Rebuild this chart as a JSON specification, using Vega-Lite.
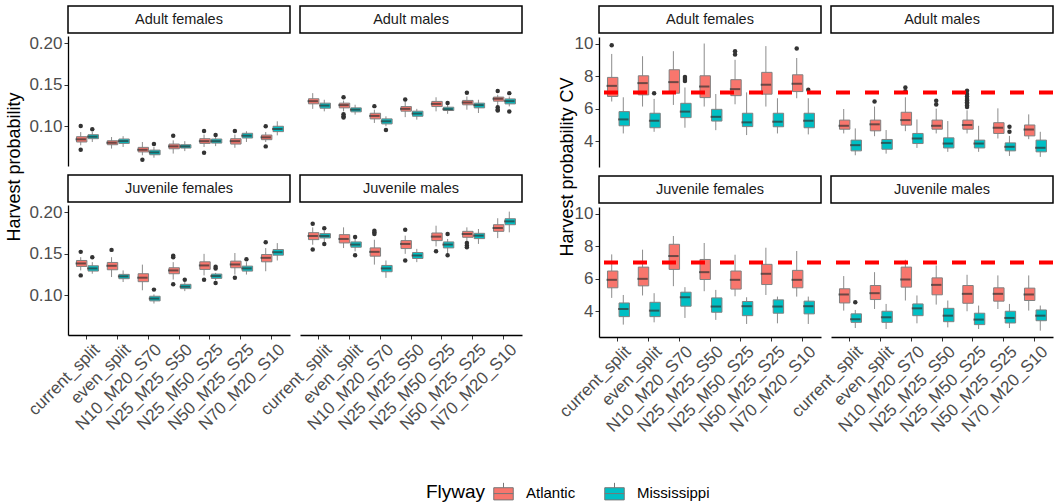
{
"$schema":"https://vega.github.io/schema/vega-lite/v6.json",
"padding":{"left":5,"top":5,"right":3,"bottom":0},
"background":"white",
"datasets":{
"box_hp":[
{"panel":"Adult females","scenario":"current_split","Flyway":"Atlantic","lower":0.077,"q1":0.081,"median":0.0842,"q3":0.0874,"upper":0.093},
{"panel":"Adult females","scenario":"current_split","Flyway":"Mississippi","lower":0.081,"q1":0.085,"median":0.0874,"q3":0.0898,"upper":0.093},
{"panel":"Adult females","scenario":"even_split","Flyway":"Atlantic","lower":0.073,"q1":0.0777,"median":0.0801,"q3":0.0825,"upper":0.087},
{"panel":"Adult females","scenario":"even_split","Flyway":"Mississippi","lower":0.075,"q1":0.0793,"median":0.0821,"q3":0.0846,"upper":0.088},
{"panel":"Adult females","scenario":"N10_M20_S70","Flyway":"Atlantic","lower":0.065,"q1":0.069,"median":0.0716,"q3":0.0745,"upper":0.081},
{"panel":"Adult females","scenario":"N10_M20_S70","Flyway":"Mississippi","lower":0.062,"q1":0.0656,"median":0.0684,"q3":0.0712,"upper":0.075},
{"panel":"Adult females","scenario":"N25_M25_S50","Flyway":"Atlantic","lower":0.067,"q1":0.0728,"median":0.0757,"q3":0.0785,"upper":0.083},
{"panel":"Adult females","scenario":"N25_M25_S50","Flyway":"Mississippi","lower":0.07,"q1":0.0737,"median":0.0757,"q3":0.0777,"upper":0.082},
{"panel":"Adult females","scenario":"N25_M50_S25","Flyway":"Atlantic","lower":0.075,"q1":0.0793,"median":0.082,"q3":0.085,"upper":0.09},
{"panel":"Adult females","scenario":"N25_M50_S25","Flyway":"Mississippi","lower":0.076,"q1":0.0797,"median":0.082,"q3":0.0846,"upper":0.088},
{"panel":"Adult females","scenario":"N50_M25_S25","Flyway":"Atlantic","lower":0.074,"q1":0.0785,"median":0.082,"q3":0.085,"upper":0.09},
{"panel":"Adult females","scenario":"N50_M25_S25","Flyway":"Mississippi","lower":0.081,"q1":0.0858,"median":0.0886,"q3":0.0915,"upper":0.094},
{"panel":"Adult females","scenario":"N70_M20_S10","Flyway":"Atlantic","lower":0.081,"q1":0.0838,"median":0.0866,"q3":0.0894,"upper":0.093},
{"panel":"Adult females","scenario":"N70_M20_S10","Flyway":"Mississippi","lower":0.089,"q1":0.0935,"median":0.0967,"q3":0.1,"upper":0.106},
{"panel":"Adult males","scenario":"current_split","Flyway":"Atlantic","lower":0.121,"q1":0.1271,"median":0.1303,"q3":0.1332,"upper":0.14},
{"panel":"Adult males","scenario":"current_split","Flyway":"Mississippi","lower":0.118,"q1":0.1218,"median":0.125,"q3":0.1279,"upper":0.132},
{"panel":"Adult males","scenario":"even_split","Flyway":"Atlantic","lower":0.118,"q1":0.1222,"median":0.1255,"q3":0.1279,"upper":0.131},
{"panel":"Adult males","scenario":"even_split","Flyway":"Mississippi","lower":0.114,"q1":0.1174,"median":0.12,"q3":0.1222,"upper":0.126},
{"panel":"Adult males","scenario":"N10_M20_S70","Flyway":"Atlantic","lower":0.104,"q1":0.1089,"median":0.1125,"q3":0.1157,"upper":0.12},
{"panel":"Adult males","scenario":"N10_M20_S70","Flyway":"Mississippi","lower":0.1,"q1":0.1028,"median":0.106,"q3":0.1089,"upper":0.112},
{"panel":"Adult males","scenario":"N25_M25_S50","Flyway":"Atlantic","lower":0.111,"q1":0.1182,"median":0.121,"q3":0.1238,"upper":0.13},
{"panel":"Adult males","scenario":"N25_M25_S50","Flyway":"Mississippi","lower":0.108,"q1":0.1121,"median":0.1153,"q3":0.1182,"upper":0.121},
{"panel":"Adult males","scenario":"N25_M50_S25","Flyway":"Atlantic","lower":0.118,"q1":0.1238,"median":0.127,"q3":0.13,"upper":0.135},
{"panel":"Adult males","scenario":"N25_M50_S25","Flyway":"Mississippi","lower":0.115,"q1":0.119,"median":0.1206,"q3":0.123,"upper":0.126},
{"panel":"Adult males","scenario":"N50_M25_S25","Flyway":"Atlantic","lower":0.12,"q1":0.1259,"median":0.1287,"q3":0.1312,"upper":0.136},
{"panel":"Adult males","scenario":"N50_M25_S25","Flyway":"Mississippi","lower":0.116,"q1":0.1222,"median":0.1255,"q3":0.1279,"upper":0.132},
{"panel":"Adult males","scenario":"N70_M20_S10","Flyway":"Atlantic","lower":0.125,"q1":0.1303,"median":0.1332,"q3":0.1352,"upper":0.138},
{"panel":"Adult males","scenario":"N70_M20_S10","Flyway":"Mississippi","lower":0.124,"q1":0.127,"median":0.1303,"q3":0.133,"upper":0.136},
{"panel":"Juvenile females","scenario":"current_split","Flyway":"Atlantic","lower":0.13,"q1":0.1348,"median":0.1384,"q3":0.142,"upper":0.146},
{"panel":"Juvenile females","scenario":"current_split","Flyway":"Mississippi","lower":0.126,"q1":0.1292,"median":0.1324,"q3":0.1356,"upper":0.14},
{"panel":"Juvenile females","scenario":"even_split","Flyway":"Atlantic","lower":0.122,"q1":0.1308,"median":0.1356,"q3":0.1396,"upper":0.146},
{"panel":"Juvenile females","scenario":"even_split","Flyway":"Mississippi","lower":0.116,"q1":0.12,"median":0.1228,"q3":0.1252,"upper":0.13},
{"panel":"Juvenile females","scenario":"N10_M20_S70","Flyway":"Atlantic","lower":0.106,"q1":0.1164,"median":0.1212,"q3":0.126,"upper":0.137},
{"panel":"Juvenile females","scenario":"N10_M20_S70","Flyway":"Mississippi","lower":0.09,"q1":0.0932,"median":0.096,"q3":0.0988,"upper":0.101},
{"panel":"Juvenile females","scenario":"N25_M25_S50","Flyway":"Atlantic","lower":0.119,"q1":0.126,"median":0.13,"q3":0.1332,"upper":0.14},
{"panel":"Juvenile females","scenario":"N25_M25_S50","Flyway":"Mississippi","lower":0.105,"q1":0.108,"median":0.1104,"q3":0.1132,"upper":0.116},
{"panel":"Juvenile females","scenario":"N25_M50_S25","Flyway":"Atlantic","lower":0.124,"q1":0.1312,"median":0.136,"q3":0.1404,"upper":0.15},
{"panel":"Juvenile females","scenario":"N25_M50_S25","Flyway":"Mississippi","lower":0.118,"q1":0.1204,"median":0.1232,"q3":0.1256,"upper":0.127},
{"panel":"Juvenile females","scenario":"N50_M25_S25","Flyway":"Atlantic","lower":0.125,"q1":0.1332,"median":0.1372,"q3":0.1412,"upper":0.151},
{"panel":"Juvenile females","scenario":"N50_M25_S25","Flyway":"Mississippi","lower":0.125,"q1":0.1292,"median":0.1324,"q3":0.1352,"upper":0.14},
{"panel":"Juvenile females","scenario":"N70_M20_S10","Flyway":"Atlantic","lower":0.129,"q1":0.1404,"median":0.1452,"q3":0.1492,"upper":0.157},
{"panel":"Juvenile females","scenario":"N70_M20_S10","Flyway":"Mississippi","lower":0.142,"q1":0.1484,"median":0.152,"q3":0.1552,"upper":0.163},
{"panel":"Juvenile males","scenario":"current_split","Flyway":"Atlantic","lower":0.161,"q1":0.1672,"median":0.1716,"q3":0.1756,"upper":0.182},
{"panel":"Juvenile males","scenario":"current_split","Flyway":"Mississippi","lower":0.164,"q1":0.1692,"median":0.1716,"q3":0.1744,"upper":0.178},
{"panel":"Juvenile males","scenario":"even_split","Flyway":"Atlantic","lower":0.157,"q1":0.1632,"median":0.168,"q3":0.1732,"upper":0.182},
{"panel":"Juvenile males","scenario":"even_split","Flyway":"Mississippi","lower":0.153,"q1":0.158,"median":0.1612,"q3":0.1644,"upper":0.168},
{"panel":"Juvenile males","scenario":"N10_M20_S70","Flyway":"Atlantic","lower":0.137,"q1":0.1472,"median":0.1524,"q3":0.1572,"upper":0.167},
{"panel":"Juvenile males","scenario":"N10_M20_S70","Flyway":"Mississippi","lower":0.121,"q1":0.1284,"median":0.1324,"q3":0.136,"upper":0.142},
{"panel":"Juvenile males","scenario":"N25_M25_S50","Flyway":"Atlantic","lower":0.15,"q1":0.1564,"median":0.162,"q3":0.166,"upper":0.172},
{"panel":"Juvenile males","scenario":"N25_M25_S50","Flyway":"Mississippi","lower":0.14,"q1":0.1444,"median":0.148,"q3":0.1516,"upper":0.156},
{"panel":"Juvenile males","scenario":"N25_M50_S25","Flyway":"Atlantic","lower":0.159,"q1":0.166,"median":0.1708,"q3":0.1752,"upper":0.184},
{"panel":"Juvenile males","scenario":"N25_M50_S25","Flyway":"Mississippi","lower":0.15,"q1":0.1572,"median":0.1612,"q3":0.1644,"upper":0.168},
{"panel":"Juvenile males","scenario":"N50_M25_S25","Flyway":"Atlantic","lower":0.165,"q1":0.17,"median":0.174,"q3":0.1772,"upper":0.182},
{"panel":"Juvenile males","scenario":"N50_M25_S25","Flyway":"Mississippi","lower":0.162,"q1":0.1684,"median":0.172,"q3":0.1748,"upper":0.18},
{"panel":"Juvenile males","scenario":"N70_M20_S10","Flyway":"Atlantic","lower":0.169,"q1":0.1772,"median":0.1812,"q3":0.1852,"upper":0.193},
{"panel":"Juvenile males","scenario":"N70_M20_S10","Flyway":"Mississippi","lower":0.176,"q1":0.1852,"median":0.1892,"q3":0.1924,"upper":0.201}
],
"out_hp":[
{"panel":"Adult females","scenario":"current_split","Flyway":"Atlantic","value":0.1004},
{"panel":"Adult females","scenario":"current_split","Flyway":"Atlantic","value":0.0716},
{"panel":"Adult females","scenario":"current_split","Flyway":"Mississippi","value":0.0963},
{"panel":"Adult females","scenario":"N10_M20_S70","Flyway":"Atlantic","value":0.0595},
{"panel":"Adult females","scenario":"N10_M20_S70","Flyway":"Mississippi","value":0.0785},
{"panel":"Adult females","scenario":"N25_M25_S50","Flyway":"Atlantic","value":0.0886},
{"panel":"Adult females","scenario":"N25_M50_S25","Flyway":"Atlantic","value":0.0943},
{"panel":"Adult females","scenario":"N25_M50_S25","Flyway":"Atlantic","value":0.068},
{"panel":"Adult females","scenario":"N25_M50_S25","Flyway":"Mississippi","value":0.0894},
{"panel":"Adult females","scenario":"N50_M25_S25","Flyway":"Atlantic","value":0.0943},
{"panel":"Adult females","scenario":"N70_M20_S10","Flyway":"Atlantic","value":0.1},
{"panel":"Adult females","scenario":"N70_M20_S10","Flyway":"Atlantic","value":0.0757},
{"panel":"Adult males","scenario":"even_split","Flyway":"Atlantic","value":0.135},
{"panel":"Adult males","scenario":"even_split","Flyway":"Atlantic","value":0.1145},
{"panel":"Adult males","scenario":"even_split","Flyway":"Atlantic","value":0.112},
{"panel":"Adult males","scenario":"even_split","Flyway":"Atlantic","value":0.1105},
{"panel":"Adult males","scenario":"N10_M20_S70","Flyway":"Atlantic","value":0.1243},
{"panel":"Adult males","scenario":"N10_M20_S70","Flyway":"Mississippi","value":0.0955},
{"panel":"Adult males","scenario":"N25_M25_S50","Flyway":"Atlantic","value":0.1323},
{"panel":"Adult males","scenario":"N25_M50_S25","Flyway":"Mississippi","value":0.128},
{"panel":"Adult males","scenario":"N50_M25_S25","Flyway":"Atlantic","value":0.1405},
{"panel":"Adult males","scenario":"N70_M20_S10","Flyway":"Atlantic","value":0.1425},
{"panel":"Adult males","scenario":"N70_M20_S10","Flyway":"Atlantic","value":0.123},
{"panel":"Adult males","scenario":"N70_M20_S10","Flyway":"Atlantic","value":0.12},
{"panel":"Adult males","scenario":"N70_M20_S10","Flyway":"Atlantic","value":0.119},
{"panel":"Adult males","scenario":"N70_M20_S10","Flyway":"Mississippi","value":0.14},
{"panel":"Adult males","scenario":"N70_M20_S10","Flyway":"Mississippi","value":0.1178},
{"panel":"Juvenile females","scenario":"current_split","Flyway":"Atlantic","value":0.1524},
{"panel":"Juvenile females","scenario":"current_split","Flyway":"Atlantic","value":0.124},
{"panel":"Juvenile females","scenario":"current_split","Flyway":"Mississippi","value":0.146},
{"panel":"Juvenile females","scenario":"even_split","Flyway":"Atlantic","value":0.1548},
{"panel":"Juvenile females","scenario":"N10_M20_S70","Flyway":"Mississippi","value":0.1068},
{"panel":"Juvenile females","scenario":"N25_M25_S50","Flyway":"Atlantic","value":0.1476},
{"panel":"Juvenile females","scenario":"N25_M25_S50","Flyway":"Atlantic","value":0.146},
{"panel":"Juvenile females","scenario":"N25_M25_S50","Flyway":"Atlantic","value":0.1132},
{"panel":"Juvenile females","scenario":"N25_M25_S50","Flyway":"Mississippi","value":0.1188},
{"panel":"Juvenile females","scenario":"N25_M50_S25","Flyway":"Atlantic","value":0.1188},
{"panel":"Juvenile females","scenario":"N25_M50_S25","Flyway":"Mississippi","value":0.1344},
{"panel":"Juvenile females","scenario":"N25_M50_S25","Flyway":"Mississippi","value":0.1324},
{"panel":"Juvenile females","scenario":"N25_M50_S25","Flyway":"Mississippi","value":0.1148},
{"panel":"Juvenile females","scenario":"N50_M25_S25","Flyway":"Atlantic","value":0.1212},
{"panel":"Juvenile females","scenario":"N50_M25_S25","Flyway":"Mississippi","value":0.1436},
{"panel":"Juvenile females","scenario":"N70_M20_S10","Flyway":"Atlantic","value":0.164},
{"panel":"Juvenile males","scenario":"current_split","Flyway":"Atlantic","value":0.1864},
{"panel":"Juvenile males","scenario":"current_split","Flyway":"Atlantic","value":0.1552},
{"panel":"Juvenile males","scenario":"current_split","Flyway":"Mississippi","value":0.1808},
{"panel":"Juvenile males","scenario":"current_split","Flyway":"Mississippi","value":0.162},
{"panel":"Juvenile males","scenario":"even_split","Flyway":"Mississippi","value":0.1704},
{"panel":"Juvenile males","scenario":"even_split","Flyway":"Mississippi","value":0.1484},
{"panel":"Juvenile males","scenario":"N10_M20_S70","Flyway":"Atlantic","value":0.178},
{"panel":"Juvenile males","scenario":"N10_M20_S70","Flyway":"Atlantic","value":0.176},
{"panel":"Juvenile males","scenario":"N10_M20_S70","Flyway":"Atlantic","value":0.174},
{"panel":"Juvenile males","scenario":"N25_M25_S50","Flyway":"Atlantic","value":0.1792},
{"panel":"Juvenile males","scenario":"N25_M25_S50","Flyway":"Atlantic","value":0.142},
{"panel":"Juvenile males","scenario":"N25_M50_S25","Flyway":"Atlantic","value":0.1532},
{"panel":"Juvenile males","scenario":"N25_M50_S25","Flyway":"Mississippi","value":0.174},
{"panel":"Juvenile males","scenario":"N25_M50_S25","Flyway":"Mississippi","value":0.1484},
{"panel":"Juvenile males","scenario":"N50_M25_S25","Flyway":"Atlantic","value":0.1632},
{"panel":"Juvenile males","scenario":"N50_M25_S25","Flyway":"Atlantic","value":0.16},
{"panel":"Juvenile males","scenario":"N50_M25_S25","Flyway":"Atlantic","value":0.158}
],
"box_cv":[
{"panel":"Adult females","scenario":"current_split","Flyway":"Atlantic","lower":6.44,"q1":6.75,"median":7.4,"q3":7.92,"upper":9.36},
{"panel":"Adult females","scenario":"current_split","Flyway":"Mississippi","lower":4.48,"q1":4.95,"median":5.34,"q3":5.82,"upper":6.7},
{"panel":"Adult females","scenario":"even_split","Flyway":"Atlantic","lower":6.13,"q1":6.85,"median":7.57,"q3":8.02,"upper":9.22},
{"panel":"Adult females","scenario":"even_split","Flyway":"Mississippi","lower":4.58,"q1":4.83,"median":5.26,"q3":5.72,"upper":6.6},
{"panel":"Adult females","scenario":"N10_M20_S70","Flyway":"Atlantic","lower":6.23,"q1":6.95,"median":7.63,"q3":8.39,"upper":9.53},
{"panel":"Adult females","scenario":"N10_M20_S70","Flyway":"Mississippi","lower":4.83,"q1":5.45,"median":5.82,"q3":6.33,"upper":7.3},
{"panel":"Adult females","scenario":"N25_M25_S50","Flyway":"Atlantic","lower":6.13,"q1":6.68,"median":7.36,"q3":8.02,"upper":10.0},
{"panel":"Adult females","scenario":"N25_M25_S50","Flyway":"Mississippi","lower":4.68,"q1":5.24,"median":5.5,"q3":5.96,"upper":6.9},
{"panel":"Adult females","scenario":"N25_M50_S25","Flyway":"Atlantic","lower":6.27,"q1":6.8,"median":7.2,"q3":7.78,"upper":9.0},
{"panel":"Adult females","scenario":"N25_M50_S25","Flyway":"Mississippi","lower":4.38,"q1":4.9,"median":5.16,"q3":5.72,"upper":7.0},
{"panel":"Adult females","scenario":"N50_M25_S25","Flyway":"Atlantic","lower":6.13,"q1":6.89,"median":7.47,"q3":8.23,"upper":9.84},
{"panel":"Adult females","scenario":"N50_M25_S25","Flyway":"Mississippi","lower":4.48,"q1":4.89,"median":5.2,"q3":5.72,"upper":6.64},
{"panel":"Adult females","scenario":"N70_M20_S10","Flyway":"Atlantic","lower":6.64,"q1":7.05,"median":7.53,"q3":8.08,"upper":9.11},
{"panel":"Adult females","scenario":"N70_M20_S10","Flyway":"Mississippi","lower":4.42,"q1":4.83,"median":5.26,"q3":5.72,"upper":6.64},
{"panel":"Adult males","scenario":"current_split","Flyway":"Atlantic","lower":4.48,"q1":4.74,"median":4.95,"q3":5.3,"upper":5.98},
{"panel":"Adult males","scenario":"current_split","Flyway":"Mississippi","lower":3.14,"q1":3.41,"median":3.76,"q3":4.07,"upper":4.79},
{"panel":"Adult males","scenario":"even_split","Flyway":"Atlantic","lower":4.31,"q1":4.64,"median":5.04,"q3":5.3,"upper":6.13},
{"panel":"Adult males","scenario":"even_split","Flyway":"Mississippi","lower":3.24,"q1":3.51,"median":3.9,"q3":4.11,"upper":4.69},
{"panel":"Adult males","scenario":"N10_M20_S70","Flyway":"Atlantic","lower":4.62,"q1":4.99,"median":5.3,"q3":5.78,"upper":6.7},
{"panel":"Adult males","scenario":"N10_M20_S70","Flyway":"Mississippi","lower":3.59,"q1":3.86,"median":4.17,"q3":4.48,"upper":5.34},
{"panel":"Adult males","scenario":"N25_M25_S50","Flyway":"Atlantic","lower":4.48,"q1":4.74,"median":4.95,"q3":5.3,"upper":6.0},
{"panel":"Adult males","scenario":"N25_M25_S50","Flyway":"Mississippi","lower":3.35,"q1":3.59,"median":3.86,"q3":4.21,"upper":5.24},
{"panel":"Adult males","scenario":"N25_M50_S25","Flyway":"Atlantic","lower":4.48,"q1":4.74,"median":5.0,"q3":5.3,"upper":5.9},
{"panel":"Adult males","scenario":"N25_M50_S25","Flyway":"Mississippi","lower":3.35,"q1":3.59,"median":3.86,"q3":4.07,"upper":4.95},
{"panel":"Adult males","scenario":"N50_M25_S25","Flyway":"Atlantic","lower":4.17,"q1":4.48,"median":4.83,"q3":5.14,"upper":6.02},
{"panel":"Adult males","scenario":"N50_M25_S25","Flyway":"Mississippi","lower":3.1,"q1":3.41,"median":3.66,"q3":3.9,"upper":4.33},
{"panel":"Adult males","scenario":"N70_M20_S10","Flyway":"Atlantic","lower":4.13,"q1":4.33,"median":4.72,"q3":5.0,"upper":5.65},
{"panel":"Adult males","scenario":"N70_M20_S10","Flyway":"Mississippi","lower":3.04,"q1":3.35,"median":3.6,"q3":4.07,"upper":4.58},
{"panel":"Juvenile females","scenario":"current_split","Flyway":"Atlantic","lower":4.82,"q1":5.44,"median":5.93,"q3":6.47,"upper":7.49},
{"panel":"Juvenile females","scenario":"current_split","Flyway":"Mississippi","lower":3.18,"q1":3.67,"median":4.14,"q3":4.51,"upper":5.0},
{"panel":"Juvenile females","scenario":"even_split","Flyway":"Atlantic","lower":4.97,"q1":5.56,"median":5.99,"q3":6.71,"upper":7.78},
{"panel":"Juvenile females","scenario":"even_split","Flyway":"Mississippi","lower":3.32,"q1":3.67,"median":4.04,"q3":4.55,"upper":5.11},
{"panel":"Juvenile females","scenario":"N10_M20_S70","Flyway":"Atlantic","lower":5.54,"q1":6.57,"median":7.39,"q3":8.11,"upper":8.62},
{"panel":"Juvenile females","scenario":"N10_M20_S70","Flyway":"Mississippi","lower":3.59,"q1":4.31,"median":4.86,"q3":5.17,"upper":5.48},
{"panel":"Juvenile females","scenario":"N25_M25_S50","Flyway":"Atlantic","lower":5.23,"q1":5.95,"median":6.4,"q3":7.18,"upper":8.19},
{"panel":"Juvenile females","scenario":"N25_M25_S50","Flyway":"Mississippi","lower":3.47,"q1":3.94,"median":4.29,"q3":4.82,"upper":5.31},
{"panel":"Juvenile females","scenario":"N25_M50_S25","Flyway":"Atlantic","lower":4.92,"q1":5.36,"median":5.93,"q3":6.47,"upper":7.47},
{"panel":"Juvenile females","scenario":"N25_M50_S25","Flyway":"Mississippi","lower":3.22,"q1":3.73,"median":4.31,"q3":4.6,"upper":4.86},
{"panel":"Juvenile females","scenario":"N50_M25_S25","Flyway":"Atlantic","lower":5.0,"q1":5.64,"median":6.3,"q3":6.88,"upper":7.9},
{"panel":"Juvenile females","scenario":"N50_M25_S25","Flyway":"Mississippi","lower":3.26,"q1":3.88,"median":4.29,"q3":4.7,"upper":4.9},
{"panel":"Juvenile females","scenario":"N70_M20_S10","Flyway":"Atlantic","lower":4.9,"q1":5.44,"median":5.93,"q3":6.51,"upper":7.7},
{"panel":"Juvenile females","scenario":"N70_M20_S10","Flyway":"Mississippi","lower":3.22,"q1":3.84,"median":4.31,"q3":4.62,"upper":4.9},
{"panel":"Juvenile males","scenario":"current_split","Flyway":"Atlantic","lower":4.04,"q1":4.51,"median":5.03,"q3":5.38,"upper":6.16},
{"panel":"Juvenile males","scenario":"current_split","Flyway":"Mississippi","lower":2.97,"q1":3.32,"median":3.51,"q3":3.84,"upper":4.08},
{"panel":"Juvenile males","scenario":"even_split","Flyway":"Atlantic","lower":4.14,"q1":4.72,"median":5.11,"q3":5.58,"upper":6.4},
{"panel":"Juvenile males","scenario":"even_split","Flyway":"Mississippi","lower":2.91,"q1":3.32,"median":3.63,"q3":4.0,"upper":4.45},
{"panel":"Juvenile males","scenario":"N10_M20_S70","Flyway":"Atlantic","lower":4.66,"q1":5.48,"median":5.95,"q3":6.71,"upper":7.16},
{"panel":"Juvenile males","scenario":"N10_M20_S70","Flyway":"Mississippi","lower":3.26,"q1":3.73,"median":4.18,"q3":4.45,"upper":4.97},
{"panel":"Juvenile males","scenario":"N25_M25_S50","Flyway":"Atlantic","lower":4.41,"q1":5.01,"median":5.62,"q3":6.05,"upper":6.81},
{"panel":"Juvenile males","scenario":"N25_M25_S50","Flyway":"Mississippi","lower":3.01,"q1":3.36,"median":3.73,"q3":4.18,"upper":4.66},
{"panel":"Juvenile males","scenario":"N25_M50_S25","Flyway":"Atlantic","lower":4.0,"q1":4.49,"median":5.07,"q3":5.58,"upper":6.24},
{"panel":"Juvenile males","scenario":"N25_M50_S25","Flyway":"Mississippi","lower":2.91,"q1":3.18,"median":3.49,"q3":3.88,"upper":4.35},
{"panel":"Juvenile males","scenario":"N50_M25_S25","Flyway":"Atlantic","lower":4.14,"q1":4.62,"median":5.07,"q3":5.44,"upper":6.2},
{"panel":"Juvenile males","scenario":"N50_M25_S25","Flyway":"Mississippi","lower":2.97,"q1":3.28,"median":3.59,"q3":4.0,"upper":4.45},
{"panel":"Juvenile males","scenario":"N70_M20_S10","Flyway":"Atlantic","lower":4.04,"q1":4.66,"median":5.03,"q3":5.42,"upper":6.2},
{"panel":"Juvenile males","scenario":"N70_M20_S10","Flyway":"Mississippi","lower":2.81,"q1":3.42,"median":3.73,"q3":4.08,"upper":4.35}
],
"out_cv":[
{"panel":"Adult females","scenario":"current_split","Flyway":"Atlantic","value":9.9},
{"panel":"Adult females","scenario":"even_split","Flyway":"Mississippi","value":6.95},
{"panel":"Adult females","scenario":"N10_M20_S70","Flyway":"Mississippi","value":7.94},
{"panel":"Adult females","scenario":"N10_M20_S70","Flyway":"Mississippi","value":7.82},
{"panel":"Adult females","scenario":"N10_M20_S70","Flyway":"Mississippi","value":7.7},
{"panel":"Adult females","scenario":"N25_M50_S25","Flyway":"Atlantic","value":9.53},
{"panel":"Adult females","scenario":"N25_M50_S25","Flyway":"Atlantic","value":9.32},
{"panel":"Adult females","scenario":"N70_M20_S10","Flyway":"Atlantic","value":9.69},
{"panel":"Adult females","scenario":"N70_M20_S10","Flyway":"Mississippi","value":7.16},
{"panel":"Adult males","scenario":"even_split","Flyway":"Atlantic","value":6.44},
{"panel":"Adult males","scenario":"N10_M20_S70","Flyway":"Atlantic","value":7.3},
{"panel":"Adult males","scenario":"N10_M20_S70","Flyway":"Atlantic","value":7.07},
{"panel":"Adult males","scenario":"N25_M25_S50","Flyway":"Atlantic","value":6.49},
{"panel":"Adult males","scenario":"N25_M25_S50","Flyway":"Atlantic","value":6.25},
{"panel":"Adult males","scenario":"N25_M50_S25","Flyway":"Atlantic","value":7.1},
{"panel":"Adult males","scenario":"N25_M50_S25","Flyway":"Atlantic","value":6.9},
{"panel":"Adult males","scenario":"N25_M50_S25","Flyway":"Atlantic","value":6.75},
{"panel":"Adult males","scenario":"N25_M50_S25","Flyway":"Atlantic","value":6.6},
{"panel":"Adult males","scenario":"N25_M50_S25","Flyway":"Atlantic","value":6.5},
{"panel":"Adult males","scenario":"N25_M50_S25","Flyway":"Atlantic","value":6.4},
{"panel":"Adult males","scenario":"N25_M50_S25","Flyway":"Atlantic","value":6.3},
{"panel":"Adult males","scenario":"N25_M50_S25","Flyway":"Atlantic","value":6.2},
{"panel":"Adult males","scenario":"N25_M50_S25","Flyway":"Atlantic","value":6.1},
{"panel":"Adult males","scenario":"N50_M25_S25","Flyway":"Mississippi","value":4.89},
{"panel":"Adult males","scenario":"N50_M25_S25","Flyway":"Mississippi","value":4.58},
{"panel":"Juvenile males","scenario":"current_split","Flyway":"Mississippi","value":4.55}
],
"threshold":[{"target":7}]
},
"hconcat":[
{"hconcat":[
{"width":18,"height":322,"data":{"values":[{"label":"Harvest probability"}]},"mark":{"type":"text","angle":270,"fontSize":18,"color":"#000"},"encoding":{"text":{"field":"label","type":"nominal"}}},
{"vconcat":[
 {"vconcat":[
  {"hconcat":[
   {"width":222,"height":27,"view":{"stroke":"#000","strokeWidth":1.5,"fill":"#fff"},"data":{"values":[{"panel":"Adult females"}]},"mark":{"type":"text","fontSize":14.5,"color":"#1a1a1a"},"encoding":{"text":{"field":"panel","type":"nominal"}}},
   {"width":222,"height":27,"view":{"stroke":"#000","strokeWidth":1.5,"fill":"#fff"},"data":{"values":[{"panel":"Adult males"}]},"mark":{"type":"text","fontSize":14.5,"color":"#1a1a1a"},"encoding":{"text":{"field":"panel","type":"nominal"}}}
  ],"spacing":10,"bounds":"flush"},
  {"hconcat":[
   {"width":222,"height":130,"layer":[
    {"data":{"name":"box_hp"},"transform":[{"filter":"datum.panel === 'Adult females'"}],
     "encoding":{"x":{"field":"scenario","type":"nominal","scale":{"domain":["current_split","even_split","N10_M20_S70","N25_M25_S50","N25_M50_S25","N50_M25_S25","N70_M20_S10"],"paddingInner":0,"paddingOuter":0.1},"axis":null},"xOffset":{"field":"Flyway","type":"nominal","scale":{"domain":["Atlantic","Mississippi"],"paddingInner":0,"paddingOuter":0.333}}},
     "layer":[
      {"mark":{"type":"rule","color":"#8c8c8c","strokeWidth":1},"encoding":{"y":{"field":"lower","type":"quantitative","scale":{"domain":[0.052,0.209],"nice":false,"zero":false},"axis":{"title":null,"values":[0.1,0.15,0.2],"format":".2f"}},"y2":{"field":"upper"}}},
      {"mark":{"type":"bar","width":{"band":0.9},"stroke":"#808080","strokeWidth":1},"encoding":{"y":{"field":"q1","type":"quantitative","axis":{"title":null,"values":[0.1,0.15,0.2],"format":".2f"}},"y2":{"field":"q3"},"fill":{"field":"Flyway","type":"nominal","scale":{"domain":["Atlantic","Mississippi"],"range":["#F8766D","#00BFC4"]},"legend":{"title":"Flyway","orient":"none","legendX":420,"legendY":476,"direction":"horizontal","titleOrient":"left","titleFontSize":19,"titleFontWeight":"normal","titleColor":"#000","labelFontSize":15,"labelColor":"#000","symbolType":"M-1,-0.5H1V0.75H-1Z M-1,0.1H1 M0,-0.5V-1","symbolSize":380,"symbolStrokeColor":"#777","symbolStrokeWidth":1,"symbolOpacity":1,"columnPadding":26,"labelOffset":12,"titlePadding":7}}}},
      {"mark":{"type":"tick","color":"#333","thickness":2,"size":10.4},"encoding":{"y":{"field":"median","type":"quantitative","axis":{"title":null,"values":[0.1,0.15,0.2],"format":".2f"}}}}
     ]},
    {"data":{"name":"out_hp"},"transform":[{"filter":"datum.panel === 'Adult females'"}],"mark":{"type":"point","filled":true,"color":"#333","size":20,"opacity":1},
     "encoding":{"x":{"field":"scenario","type":"nominal","scale":{"domain":["current_split","even_split","N10_M20_S70","N25_M25_S50","N25_M50_S25","N50_M25_S25","N70_M20_S10"],"paddingInner":0,"paddingOuter":0.1},"axis":null},"xOffset":{"field":"Flyway","type":"nominal","scale":{"domain":["Atlantic","Mississippi"],"paddingInner":0,"paddingOuter":0.333}},"y":{"field":"value","type":"quantitative","axis":{"title":null,"values":[0.1,0.15,0.2],"format":".2f"}}}}
   ]},
   {"width":222,"height":130,"layer":[
    {"data":{"name":"box_hp"},"transform":[{"filter":"datum.panel === 'Adult males'"}],
     "encoding":{"x":{"field":"scenario","type":"nominal","scale":{"domain":["current_split","even_split","N10_M20_S70","N25_M25_S50","N25_M50_S25","N50_M25_S25","N70_M20_S10"],"paddingInner":0,"paddingOuter":0.1},"axis":null},"xOffset":{"field":"Flyway","type":"nominal","scale":{"domain":["Atlantic","Mississippi"],"paddingInner":0,"paddingOuter":0.333}}},
     "layer":[
      {"mark":{"type":"rule","color":"#8c8c8c","strokeWidth":1},"encoding":{"y":{"field":"lower","type":"quantitative","scale":{"domain":[0.052,0.209],"nice":false,"zero":false},"axis":null},"y2":{"field":"upper"}}},
      {"mark":{"type":"bar","width":{"band":0.9},"stroke":"#808080","strokeWidth":1},"encoding":{"y":{"field":"q1","type":"quantitative","axis":null},"y2":{"field":"q3"},"fill":{"field":"Flyway","type":"nominal","legend":null}}},
      {"mark":{"type":"tick","color":"#333","thickness":2,"size":10.4},"encoding":{"y":{"field":"median","type":"quantitative","axis":null}}}
     ]},
    {"data":{"name":"out_hp"},"transform":[{"filter":"datum.panel === 'Adult males'"}],"mark":{"type":"point","filled":true,"color":"#333","size":20,"opacity":1},
     "encoding":{"x":{"field":"scenario","type":"nominal","scale":{"domain":["current_split","even_split","N10_M20_S70","N25_M25_S50","N25_M50_S25","N50_M25_S25","N70_M20_S10"],"paddingInner":0,"paddingOuter":0.1},"axis":null},"xOffset":{"field":"Flyway","type":"nominal","scale":{"domain":["Atlantic","Mississippi"],"paddingInner":0,"paddingOuter":0.333}},"y":{"field":"value","type":"quantitative","axis":null}}}
   ]}
  ],"spacing":10,"bounds":"flush"}
 ],"spacing":0},
 {"vconcat":[
  {"hconcat":[
   {"width":222,"height":27,"view":{"stroke":"#000","strokeWidth":1.5,"fill":"#fff"},"data":{"values":[{"panel":"Juvenile females"}]},"mark":{"type":"text","fontSize":14.5,"color":"#1a1a1a"},"encoding":{"text":{"field":"panel","type":"nominal"}}},
   {"width":222,"height":27,"view":{"stroke":"#000","strokeWidth":1.5,"fill":"#fff"},"data":{"values":[{"panel":"Juvenile males"}]},"mark":{"type":"text","fontSize":14.5,"color":"#1a1a1a"},"encoding":{"text":{"field":"panel","type":"nominal"}}}
  ],"spacing":10,"bounds":"flush"},
  {"hconcat":[
   {"width":222,"height":130,"layer":[
    {"data":{"name":"box_hp"},"transform":[{"filter":"datum.panel === 'Juvenile females'"}],
     "encoding":{"x":{"field":"scenario","type":"nominal","scale":{"domain":["current_split","even_split","N10_M20_S70","N25_M25_S50","N25_M50_S25","N50_M25_S25","N70_M20_S10"],"paddingInner":0,"paddingOuter":0.1},"axis":{"title":null,"labelAngle":-45,"labelAlign":"right","labelBaseline":"top","labelOffset":5}},"xOffset":{"field":"Flyway","type":"nominal","scale":{"domain":["Atlantic","Mississippi"],"paddingInner":0,"paddingOuter":0.333}}},
     "layer":[
      {"mark":{"type":"rule","color":"#8c8c8c","strokeWidth":1},"encoding":{"y":{"field":"lower","type":"quantitative","scale":{"domain":[0.052,0.209],"nice":false,"zero":false},"axis":{"title":null,"values":[0.1,0.15,0.2],"format":".2f"}},"y2":{"field":"upper"}}},
      {"mark":{"type":"bar","width":{"band":0.9},"stroke":"#808080","strokeWidth":1},"encoding":{"y":{"field":"q1","type":"quantitative","axis":{"title":null,"values":[0.1,0.15,0.2],"format":".2f"}},"y2":{"field":"q3"},"fill":{"field":"Flyway","type":"nominal","legend":null}}},
      {"mark":{"type":"tick","color":"#333","thickness":2,"size":10.4},"encoding":{"y":{"field":"median","type":"quantitative","axis":{"title":null,"values":[0.1,0.15,0.2],"format":".2f"}}}}
     ]},
    {"data":{"name":"out_hp"},"transform":[{"filter":"datum.panel === 'Juvenile females'"}],"mark":{"type":"point","filled":true,"color":"#333","size":20,"opacity":1},
     "encoding":{"x":{"field":"scenario","type":"nominal","scale":{"domain":["current_split","even_split","N10_M20_S70","N25_M25_S50","N25_M50_S25","N50_M25_S25","N70_M20_S10"],"paddingInner":0,"paddingOuter":0.1},"axis":{"title":null,"labelAngle":-45,"labelAlign":"right","labelBaseline":"top","labelOffset":5}},"xOffset":{"field":"Flyway","type":"nominal","scale":{"domain":["Atlantic","Mississippi"],"paddingInner":0,"paddingOuter":0.333}},"y":{"field":"value","type":"quantitative","axis":{"title":null,"values":[0.1,0.15,0.2],"format":".2f"}}}}
   ]},
   {"width":222,"height":130,"layer":[
    {"data":{"name":"box_hp"},"transform":[{"filter":"datum.panel === 'Juvenile males'"}],
     "encoding":{"x":{"field":"scenario","type":"nominal","scale":{"domain":["current_split","even_split","N10_M20_S70","N25_M25_S50","N25_M50_S25","N50_M25_S25","N70_M20_S10"],"paddingInner":0,"paddingOuter":0.1},"axis":{"title":null,"labelAngle":-45,"labelAlign":"right","labelBaseline":"top","labelOffset":5}},"xOffset":{"field":"Flyway","type":"nominal","scale":{"domain":["Atlantic","Mississippi"],"paddingInner":0,"paddingOuter":0.333}}},
     "layer":[
      {"mark":{"type":"rule","color":"#8c8c8c","strokeWidth":1},"encoding":{"y":{"field":"lower","type":"quantitative","scale":{"domain":[0.052,0.209],"nice":false,"zero":false},"axis":null},"y2":{"field":"upper"}}},
      {"mark":{"type":"bar","width":{"band":0.9},"stroke":"#808080","strokeWidth":1},"encoding":{"y":{"field":"q1","type":"quantitative","axis":null},"y2":{"field":"q3"},"fill":{"field":"Flyway","type":"nominal","legend":null}}},
      {"mark":{"type":"tick","color":"#333","thickness":2,"size":10.4},"encoding":{"y":{"field":"median","type":"quantitative","axis":null}}}
     ]},
    {"data":{"name":"out_hp"},"transform":[{"filter":"datum.panel === 'Juvenile males'"}],"mark":{"type":"point","filled":true,"color":"#333","size":20,"opacity":1},
     "encoding":{"x":{"field":"scenario","type":"nominal","scale":{"domain":["current_split","even_split","N10_M20_S70","N25_M25_S50","N25_M50_S25","N50_M25_S25","N70_M20_S10"],"paddingInner":0,"paddingOuter":0.1},"axis":{"title":null,"labelAngle":-45,"labelAlign":"right","labelBaseline":"top","labelOffset":5}},"xOffset":{"field":"Flyway","type":"nominal","scale":{"domain":["Atlantic","Mississippi"],"paddingInner":0,"paddingOuter":0.333}},"y":{"field":"value","type":"quantitative","axis":null}}}
   ]}
  ],"spacing":10,"bounds":"flush"}
 ],"spacing":0}
],"spacing":8}
],"spacing":0},
{"hconcat":[
{"width":18,"height":322,"data":{"values":[{"label":"Harvest probability CV"}]},"mark":{"type":"text","angle":270,"fontSize":18,"color":"#000"},"encoding":{"text":{"field":"label","type":"nominal"}}},
{"vconcat":[
 {"vconcat":[
  {"hconcat":[
   {"width":222,"height":27,"view":{"stroke":"#000","strokeWidth":1.5,"fill":"#fff"},"data":{"values":[{"panel":"Adult females"}]},"mark":{"type":"text","fontSize":14.5,"color":"#1a1a1a"},"encoding":{"text":{"field":"panel","type":"nominal"}}},
   {"width":222,"height":27,"view":{"stroke":"#000","strokeWidth":1.5,"fill":"#fff"},"data":{"values":[{"panel":"Adult males"}]},"mark":{"type":"text","fontSize":14.5,"color":"#1a1a1a"},"encoding":{"text":{"field":"panel","type":"nominal"}}}
  ],"spacing":10,"bounds":"flush"},
  {"hconcat":[
   {"width":222,"height":130,"layer":[
    {"data":{"name":"box_cv"},"transform":[{"filter":"datum.panel === 'Adult females'"}],
     "encoding":{"x":{"field":"scenario","type":"nominal","scale":{"domain":["current_split","even_split","N10_M20_S70","N25_M25_S50","N25_M50_S25","N50_M25_S25","N70_M20_S10"],"paddingInner":0,"paddingOuter":0.1},"axis":null},"xOffset":{"field":"Flyway","type":"nominal","scale":{"domain":["Atlantic","Mississippi"],"paddingInner":0,"paddingOuter":0.333}}},
     "layer":[
      {"mark":{"type":"rule","color":"#8c8c8c","strokeWidth":1},"encoding":{"y":{"field":"lower","type":"quantitative","scale":{"domain":[2.42,10.4],"nice":false,"zero":false},"axis":{"title":null,"values":[4,6,8,10],"format":"d"}},"y2":{"field":"upper"}}},
      {"mark":{"type":"bar","width":{"band":0.9},"stroke":"#808080","strokeWidth":1},"encoding":{"y":{"field":"q1","type":"quantitative","axis":{"title":null,"values":[4,6,8,10],"format":"d"}},"y2":{"field":"q3"},"fill":{"field":"Flyway","type":"nominal","legend":null}}},
      {"mark":{"type":"tick","color":"#333","thickness":2,"size":10.4},"encoding":{"y":{"field":"median","type":"quantitative","axis":{"title":null,"values":[4,6,8,10],"format":"d"}}}}
     ]},
    {"data":{"name":"out_cv"},"transform":[{"filter":"datum.panel === 'Adult females'"}],"mark":{"type":"point","filled":true,"color":"#333","size":20,"opacity":1},
     "encoding":{"x":{"field":"scenario","type":"nominal","scale":{"domain":["current_split","even_split","N10_M20_S70","N25_M25_S50","N25_M50_S25","N50_M25_S25","N70_M20_S10"],"paddingInner":0,"paddingOuter":0.1},"axis":null},"xOffset":{"field":"Flyway","type":"nominal","scale":{"domain":["Atlantic","Mississippi"],"paddingInner":0,"paddingOuter":0.333}},"y":{"field":"value","type":"quantitative","axis":{"title":null,"values":[4,6,8,10],"format":"d"}}}},
    {"data":{"name":"threshold"},"mark":{"type":"rule","color":"#ff0000","strokeWidth":4,"strokeDash":[14,15]},"encoding":{"y":{"field":"target","type":"quantitative","axis":{"title":null,"values":[4,6,8,10],"format":"d"}}}}
   ]},
   {"width":222,"height":130,"layer":[
    {"data":{"name":"box_cv"},"transform":[{"filter":"datum.panel === 'Adult males'"}],
     "encoding":{"x":{"field":"scenario","type":"nominal","scale":{"domain":["current_split","even_split","N10_M20_S70","N25_M25_S50","N25_M50_S25","N50_M25_S25","N70_M20_S10"],"paddingInner":0,"paddingOuter":0.1},"axis":null},"xOffset":{"field":"Flyway","type":"nominal","scale":{"domain":["Atlantic","Mississippi"],"paddingInner":0,"paddingOuter":0.333}}},
     "layer":[
      {"mark":{"type":"rule","color":"#8c8c8c","strokeWidth":1},"encoding":{"y":{"field":"lower","type":"quantitative","scale":{"domain":[2.42,10.4],"nice":false,"zero":false},"axis":null},"y2":{"field":"upper"}}},
      {"mark":{"type":"bar","width":{"band":0.9},"stroke":"#808080","strokeWidth":1},"encoding":{"y":{"field":"q1","type":"quantitative","axis":null},"y2":{"field":"q3"},"fill":{"field":"Flyway","type":"nominal","legend":null}}},
      {"mark":{"type":"tick","color":"#333","thickness":2,"size":10.4},"encoding":{"y":{"field":"median","type":"quantitative","axis":null}}}
     ]},
    {"data":{"name":"out_cv"},"transform":[{"filter":"datum.panel === 'Adult males'"}],"mark":{"type":"point","filled":true,"color":"#333","size":20,"opacity":1},
     "encoding":{"x":{"field":"scenario","type":"nominal","scale":{"domain":["current_split","even_split","N10_M20_S70","N25_M25_S50","N25_M50_S25","N50_M25_S25","N70_M20_S10"],"paddingInner":0,"paddingOuter":0.1},"axis":null},"xOffset":{"field":"Flyway","type":"nominal","scale":{"domain":["Atlantic","Mississippi"],"paddingInner":0,"paddingOuter":0.333}},"y":{"field":"value","type":"quantitative","axis":null}}},
    {"data":{"name":"threshold"},"mark":{"type":"rule","color":"#ff0000","strokeWidth":4,"strokeDash":[14,15]},"encoding":{"y":{"field":"target","type":"quantitative","axis":null}}}
   ]}
  ],"spacing":10,"bounds":"flush"}
 ],"spacing":0},
 {"vconcat":[
  {"hconcat":[
   {"width":222,"height":27,"view":{"stroke":"#000","strokeWidth":1.5,"fill":"#fff"},"data":{"values":[{"panel":"Juvenile females"}]},"mark":{"type":"text","fontSize":14.5,"color":"#1a1a1a"},"encoding":{"text":{"field":"panel","type":"nominal"}}},
   {"width":222,"height":27,"view":{"stroke":"#000","strokeWidth":1.5,"fill":"#fff"},"data":{"values":[{"panel":"Juvenile males"}]},"mark":{"type":"text","fontSize":14.5,"color":"#1a1a1a"},"encoding":{"text":{"field":"panel","type":"nominal"}}}
  ],"spacing":10,"bounds":"flush"},
  {"hconcat":[
   {"width":222,"height":130,"layer":[
    {"data":{"name":"box_cv"},"transform":[{"filter":"datum.panel === 'Juvenile females'"}],
     "encoding":{"x":{"field":"scenario","type":"nominal","scale":{"domain":["current_split","even_split","N10_M20_S70","N25_M25_S50","N25_M50_S25","N50_M25_S25","N70_M20_S10"],"paddingInner":0,"paddingOuter":0.1},"axis":{"title":null,"labelAngle":-45,"labelAlign":"right","labelBaseline":"top","labelOffset":5}},"xOffset":{"field":"Flyway","type":"nominal","scale":{"domain":["Atlantic","Mississippi"],"paddingInner":0,"paddingOuter":0.333}}},
     "layer":[
      {"mark":{"type":"rule","color":"#8c8c8c","strokeWidth":1},"encoding":{"y":{"field":"lower","type":"quantitative","scale":{"domain":[2.42,10.4],"nice":false,"zero":false},"axis":{"title":null,"values":[4,6,8,10],"format":"d"}},"y2":{"field":"upper"}}},
      {"mark":{"type":"bar","width":{"band":0.9},"stroke":"#808080","strokeWidth":1},"encoding":{"y":{"field":"q1","type":"quantitative","axis":{"title":null,"values":[4,6,8,10],"format":"d"}},"y2":{"field":"q3"},"fill":{"field":"Flyway","type":"nominal","legend":null}}},
      {"mark":{"type":"tick","color":"#333","thickness":2,"size":10.4},"encoding":{"y":{"field":"median","type":"quantitative","axis":{"title":null,"values":[4,6,8,10],"format":"d"}}}}
     ]},
    {"data":{"name":"out_cv"},"transform":[{"filter":"datum.panel === 'Juvenile females'"}],"mark":{"type":"point","filled":true,"color":"#333","size":20,"opacity":1},
     "encoding":{"x":{"field":"scenario","type":"nominal","scale":{"domain":["current_split","even_split","N10_M20_S70","N25_M25_S50","N25_M50_S25","N50_M25_S25","N70_M20_S10"],"paddingInner":0,"paddingOuter":0.1},"axis":{"title":null,"labelAngle":-45,"labelAlign":"right","labelBaseline":"top","labelOffset":5}},"xOffset":{"field":"Flyway","type":"nominal","scale":{"domain":["Atlantic","Mississippi"],"paddingInner":0,"paddingOuter":0.333}},"y":{"field":"value","type":"quantitative","axis":{"title":null,"values":[4,6,8,10],"format":"d"}}}},
    {"data":{"name":"threshold"},"mark":{"type":"rule","color":"#ff0000","strokeWidth":4,"strokeDash":[14,15]},"encoding":{"y":{"field":"target","type":"quantitative","axis":{"title":null,"values":[4,6,8,10],"format":"d"}}}}
   ]},
   {"width":222,"height":130,"layer":[
    {"data":{"name":"box_cv"},"transform":[{"filter":"datum.panel === 'Juvenile males'"}],
     "encoding":{"x":{"field":"scenario","type":"nominal","scale":{"domain":["current_split","even_split","N10_M20_S70","N25_M25_S50","N25_M50_S25","N50_M25_S25","N70_M20_S10"],"paddingInner":0,"paddingOuter":0.1},"axis":{"title":null,"labelAngle":-45,"labelAlign":"right","labelBaseline":"top","labelOffset":5}},"xOffset":{"field":"Flyway","type":"nominal","scale":{"domain":["Atlantic","Mississippi"],"paddingInner":0,"paddingOuter":0.333}}},
     "layer":[
      {"mark":{"type":"rule","color":"#8c8c8c","strokeWidth":1},"encoding":{"y":{"field":"lower","type":"quantitative","scale":{"domain":[2.42,10.4],"nice":false,"zero":false},"axis":null},"y2":{"field":"upper"}}},
      {"mark":{"type":"bar","width":{"band":0.9},"stroke":"#808080","strokeWidth":1},"encoding":{"y":{"field":"q1","type":"quantitative","axis":null},"y2":{"field":"q3"},"fill":{"field":"Flyway","type":"nominal","legend":null}}},
      {"mark":{"type":"tick","color":"#333","thickness":2,"size":10.4},"encoding":{"y":{"field":"median","type":"quantitative","axis":null}}}
     ]},
    {"data":{"name":"out_cv"},"transform":[{"filter":"datum.panel === 'Juvenile males'"}],"mark":{"type":"point","filled":true,"color":"#333","size":20,"opacity":1},
     "encoding":{"x":{"field":"scenario","type":"nominal","scale":{"domain":["current_split","even_split","N10_M20_S70","N25_M25_S50","N25_M50_S25","N50_M25_S25","N70_M20_S10"],"paddingInner":0,"paddingOuter":0.1},"axis":{"title":null,"labelAngle":-45,"labelAlign":"right","labelBaseline":"top","labelOffset":5}},"xOffset":{"field":"Flyway","type":"nominal","scale":{"domain":["Atlantic","Mississippi"],"paddingInner":0,"paddingOuter":0.333}},"y":{"field":"value","type":"quantitative","axis":null}}},
    {"data":{"name":"threshold"},"mark":{"type":"rule","color":"#ff0000","strokeWidth":4,"strokeDash":[14,15]},"encoding":{"y":{"field":"target","type":"quantitative","axis":null}}}
   ]}
  ],"spacing":10,"bounds":"flush"}
 ],"spacing":0}
],"spacing":8}
],"spacing":-23}
],
"spacing":32,
"config":{
 "font":"Liberation Sans",
 "view":{"stroke":null},
 "axis":{"grid":false,"domainColor":"#000","domainWidth":1.3,"tickColor":"#333","tickSize":4,"tickWidth":1,"labelColor":"#4d4d4d","labelFontSize":17,"labelPadding":2,"titleFontSize":20,"titleFontWeight":"normal","titleColor":"#000","titlePadding":3},
 "axisX":{"labelFontSize":17}
}
}
